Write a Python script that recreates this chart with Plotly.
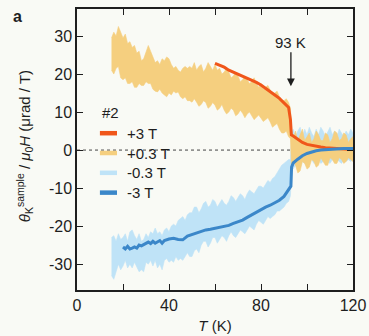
import plotly.graph_objects as go

# ---------------- data ----------------
# temperature grid of the two noisy low-field sweeps (K)
T_band = [15, 16, 17, 18, 19, 20, 21, 22, 23, 24, 25, 26, 27, 28, 29, 30, 31, 32, 33, 34,
          35, 36, 37, 38, 39, 40, 41, 42, 43, 44, 45, 46, 47, 48, 49, 50,
          51, 52, 53, 54, 55, 56, 57, 58, 59, 60, 61, 62, 63, 64, 65, 66, 67, 68, 69, 70,
          71, 72, 73, 74, 75, 76, 77, 78, 79, 80, 81, 82, 83, 84, 85, 86, 87, 88, 89, 90,
          91, 92, 92.8,
          93.3, 94, 95, 96, 97, 98, 99, 100, 101, 102, 103, 104, 105, 106, 107, 108, 109, 110,
          111, 112, 113, 114, 115, 116, 117, 118, 119, 120]

# +0.3 T : upper / lower envelope of the noisy trace
up_p03 = [29.5, 31, 30, 32.5, 31, 29.5, 30.5, 28, 28.5, 27, 27.5, 25.5, 26, 23.5, 24, 25.5, 27.5, 26, 24.5, 23,
          23.5, 22.5, 24, 23.5, 24.5, 24, 22.5, 21.5, 22, 21, 20.5, 21.5, 22, 21.5, 22, 21.5,
          23, 21, 22, 22.5, 20.5, 21.5, 23, 22, 21, 22.5, 21, 21.5, 20, 20.5, 21.5, 20.5, 19, 19.5, 20.5, 19.5,
          18, 18.5, 19.5, 18.5, 17.5, 18, 19, 17.5, 16.5, 17.5, 16, 16.5, 17, 15.8, 14.5, 15, 15.5, 14, 13, 13,
          13.5, 12.5, 11,
          4.5, 3, 5, 2.5, 4, 5.5, 2.5, 3.5, 4.5, 2, 3, 5, 4, 2.5, 2.5, 4.5, 4, 2,
          3, 5, 4.5, 2.5, 3, 4.5, 4, 2, 3, 3.5]
lo_p03 = [21, 20, 21.5, 22, 19, 18.5, 19, 17.5, 17.5, 18, 16.5, 16.5, 17.5, 17, 17, 18, 17.5, 17.5, 16, 15.5,
          15.3, 16, 15, 14.5, 14, 15, 14.5, 15.5, 15, 15.3, 14, 13.5, 14, 13, 13, 12.6,
          13.5, 12.6, 11.5, 12, 13, 12.5, 11, 11.5, 12.5, 11.8, 10.5, 11, 12, 10.5, 9.5, 10, 11, 10.5, 9, 9.5,
          10.5, 9.7, 8.5, 9.5, 10, 9, 8, 8.6, 9.2, 8.4, 7.5, 8, 8.5, 7.4, 6, 6.5, 7, 5.5, 4.5, 4.5,
          5, 3.5, 3,
          -5, -3, -4, -6, -5.5, -3, -3.5, -5, -4.5, -2.5, -3, -4.5, -4, -2, -3, -4, -4, -2,
          -2.5, -3.5, -3.5, -2, -2.5, -3.5, -3, -2, -2.5, -3]

# -0.3 T : upper / lower envelope of the noisy trace
up_m03 = [-23, -22.5, -24, -22, -23.5, -23, -22, -24, -21.5, -21, -22.5, -23.5, -22, -24, -23.5, -22, -23, -21.5, -22, -20.5,
          -22, -21.5, -22.5, -21, -20.5, -21.5, -20, -19.5, -20, -18.5, -18, -17.5, -18.5, -17, -16.5, -16.5,
          -15, -15, -16.5, -15.5, -14, -13.5, -15, -14.5, -13, -13.5, -15, -14, -13, -14, -14.5, -13.5, -12, -12.5, -13.5, -12.5,
          -11.5, -12, -13, -11.5, -10.5, -11, -11.5, -10.5, -9.5, -9.5, -10, -9, -8, -8.5, -7.5, -7, -6, -5, -4, -3.5,
          -3, -2.5, -2.5,
          4, 5.5, 3.5, 5, 6, 3.5, 5.5, 4, 6, 4.5, 3.5, 5.5, 4, 6, 5, 3.5, 5, 6,
          4, 5, 3.5, 5.5, 4.5, 3.5, 5, 4, 5.5, 4.5]
lo_m03 = [-33, -34, -32, -30, -31.5, -30.5, -29, -31, -30, -31, -29.5, -30.5, -32, -31.5, -32, -29.5, -30, -29, -30.5, -29,
          -31, -30, -31.5, -29, -28.5, -29.5, -29, -29.5, -28, -29, -28.5, -29, -28, -27, -28, -28,
          -26.5, -26, -27, -25, -24, -24, -25.5, -24.5, -23, -23, -24.5, -23.5, -22.5, -23, -24, -22.5, -21.5, -22.5, -23, -22,
          -21, -21.5, -22, -21, -20, -20.5, -21, -19.5, -18.5, -19, -19.5, -18.5, -17.5, -18, -17.5, -17, -16, -16, -15.5, -15,
          -14, -13.5, -12,
          -4.5, -5, -4, -3.5, -4.5, -3, -3.5, -4, -3, -2.5, -3.5, -3, -2.5, -3.5, -3, -2.5, -3, -3.5,
          -2.5, -3, -2.5, -3, -3.5, -2.5, -3, -2.5, -3, -2.5]

# +3 T
T_p3 = [60, 62, 64, 66, 68, 70, 72, 74, 76, 78, 80, 82, 84, 86, 88, 90, 92, 92.8, 93.2,
        94, 96, 98, 100, 102, 104, 106, 108, 110, 112, 114, 116, 118]
v_p3 = [22.8, 22.3, 21.8, 21, 20.5, 20, 19.4, 18.8, 18.3, 17.8, 17.1, 16.3, 15.4, 14.5, 13.6, 12.5, 11.2, 8, 4,
        3.7, 2.8, 2, 1.5, 1.2, 1, 0.8, 0.6, 0.5, 0.4, 0.3, 0.3, 0.2]

# -3 T
T_m3 = [20, 21, 22, 23, 24, 25, 26, 27, 28, 29, 30, 31, 32, 33, 34, 35, 36, 37, 38, 40,
        42, 44, 46, 48, 50, 52, 54, 56, 58, 60, 62, 64, 66, 68, 70, 72, 74, 76, 78, 80,
        82, 84, 86, 88, 90, 92, 93, 93.3, 94, 96, 98, 100, 102, 104, 106, 108, 110, 112,
        114, 116, 118, 120]
v_m3 = [-25.5, -26, -25.3, -26, -25.8, -25.5, -25.8, -25, -25.2, -24.8, -24.5, -24.2, -24.6, -24, -24.5, -24.2, -23.8, -24.5, -23.8, -23.4,
        -23.2, -23.5, -23.6, -22.6, -22.2, -21.6, -21.3, -21, -20.8, -20.6, -20.4, -20.2, -19.8, -19.3, -18.9, -18.4, -17.7, -17, -16.2, -15.5,
        -15, -14.5, -13.9, -13.2, -12.2, -10.5, -9.5, -4.5, -3.4, -2.4, -1.5, -0.9, -0.5, -0.2, 0, 0.1, 0.2, 0.3,
        0.3, 0.4, 0.4, 0.4]

x_tickvals = [0, 20, 40, 60, 80, 100, 120]
x_ticktext = ["0", "", "40", "", "80", "", "120"]
y_tickvals = [-30, -20, -10, 0, 10, 20, 30]
y_ticktext = ["-30", "-20", "-10", "0", "10", "20", "30"]

legend_title = "#2"
legend_names = ["+3 T", "+0.3 T", "-0.3 T", "-3 T"]

# ---------------- style ----------------
C_ORANGE = "#f0561a"
C_YELLOW = "#f5cf7f"
C_LBLUE = "#bfe3f7"
C_BLUE = "#3b87c9"
legend_colors = [C_ORANGE, C_YELLOW, C_LBLUE, C_BLUE]
BG = "#f9faf5"
FONT = "Liberation Sans, Arial, sans-serif"
INK = "#1e1e1e"

fig = go.Figure()

# bands (as closed polygons)
fig.add_trace(go.Scatter(
    x=T_band + T_band[::-1], y=up_m03 + lo_m03[::-1], fill="toself",
    fillcolor=C_LBLUE, line=dict(width=0.6, color=C_LBLUE), mode="lines",
    showlegend=False, hoverinfo="skip"))
fig.add_trace(go.Scatter(
    x=T_band + T_band[::-1], y=up_p03 + lo_p03[::-1], fill="toself",
    fillcolor=C_YELLOW, line=dict(width=0.6, color=C_YELLOW), mode="lines",
    showlegend=False, hoverinfo="skip"))
fig.add_trace(go.Scatter(x=T_p3, y=v_p3, mode="lines",
                         line=dict(color=C_ORANGE, width=3), showlegend=False))
fig.add_trace(go.Scatter(x=T_m3, y=v_m3, mode="lines",
                         line=dict(color=C_BLUE, width=3), showlegend=False))

axis_common = dict(
    showline=True, linecolor=INK, linewidth=1.5, mirror="ticks",
    ticks="inside", ticklen=6, tickwidth=1.2, tickcolor=INK,
    showgrid=False, zeroline=False, automargin=False,
    tickfont=dict(family=FONT, size=16, color=INK),
)

# manual legend (paper coordinates)
LEG_X0, LEG_X1, LEG_TX = 0.083, 0.145, 0.175
LEG_Y_TITLE, LEG_Y0, LEG_DY = 0.633, 0.558, 0.0705
shapes = [dict(type="line", xref="x", yref="y", x0=0, x1=120, y0=0, y1=0,
               line=dict(color="#444444", width=1, dash="dot"), layer="below")]
annotations = [dict(text=legend_title, xref="paper", yref="paper", x=LEG_X0, y=LEG_Y_TITLE,
                    xanchor="left", yanchor="middle", showarrow=False,
                    font=dict(family=FONT, size=15, color=INK))]
for i, (name, col) in enumerate(zip(legend_names, legend_colors)):
    yy = LEG_Y0 - i * LEG_DY
    shapes.append(dict(type="line", xref="paper", yref="paper", x0=LEG_X0, x1=LEG_X1,
                       y0=yy, y1=yy, line=dict(color=col, width=4.5)))
    annotations.append(dict(text=name, xref="paper", yref="paper", x=LEG_TX, y=yy,
                            xanchor="left", yanchor="middle", showarrow=False,
                            font=dict(family=FONT, size=15, color=INK)))

annotations += [
    dict(text="<b>a</b>", xref="paper", yref="paper", x=-0.215, y=0.975,
         xanchor="center", yanchor="middle", showarrow=False,
         font=dict(family=FONT, size=16, color=INK)),
    dict(text="93 K", xref="x", yref="y", x=93, y=16.8, ax=0, ay=-44,
         showarrow=True, arrowhead=2, arrowsize=1.2, arrowwidth=1.3, arrowcolor=INK,
         font=dict(family=FONT, size=15, color=INK)),
    dict(text="<i>θ</i><sub>K</sub><sup>sample</sup> / <i>μ</i><sub>0</sub><i>H</i> (μrad / T)",
         xref="paper", yref="paper", x=-0.19, y=0.51, textangle=-90,
         xanchor="center", yanchor="middle", showarrow=False,
         font=dict(family=FONT, size=15, color=INK)),
]

fig.update_layout(
    width=369, height=336,
    margin=dict(l=77, r=16, t=9, b=46, autoexpand=False),
    paper_bgcolor=BG, plot_bgcolor=BG,
    font=dict(family=FONT, size=15, color=INK),
    showlegend=False,
    xaxis=dict(range=[0, 120], tickmode="array", tickvals=x_tickvals, ticktext=x_ticktext,
               title=dict(text="<i>T</i> (K)", font=dict(family=FONT, size=15, color=INK), standoff=8),
               **axis_common),
    yaxis=dict(range=[-36.8, 37.1], tickmode="array", tickvals=y_tickvals, ticktext=y_ticktext,
               **axis_common),
    shapes=shapes,
    annotations=annotations,
)

fig.write_html("out.html", config={"displayModeBar": False})
with open("out.html", "r", encoding="utf-8") as f:
    html = f.read()
html = html.replace("<body>", '<body style="margin:0;padding:0;background:%s">' % BG, 1)
with open("out.html", "w", encoding="utf-8") as f:
    f.write(html)
